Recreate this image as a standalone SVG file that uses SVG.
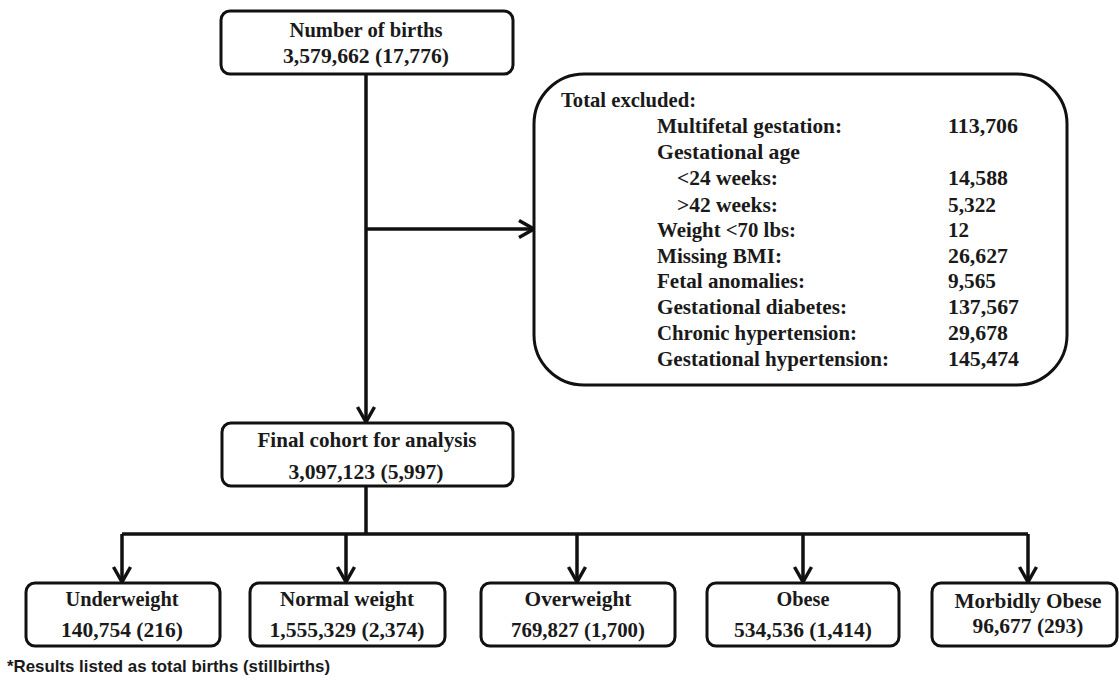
<svg xmlns="http://www.w3.org/2000/svg" width="1119" height="684" viewBox="0 0 1119 684">
<style>
.box{fill:#fff;stroke:#111;stroke-width:3}
.t{font-family:"Liberation Serif","Times New Roman",serif;font-weight:bold;font-size:22px;fill:#1a1a1a}
.c{text-anchor:middle}
.ln{fill:none;stroke:#111;stroke-width:3.5}
.note{font-family:"Liberation Sans",Arial,sans-serif;font-weight:bold;font-size:17px;fill:#1a1a1a}
</style>
<defs>
<marker id="arr" viewBox="-20 -12 24 24" refX="-2" refY="0" markerWidth="24" markerHeight="24" markerUnits="userSpaceOnUse" orient="auto" overflow="visible">
<path d="M-16,-8.5 L-1,0 L-16,8.5" fill="none" stroke="#111" stroke-width="3.5" stroke-linejoin="miter"/>
</marker>
</defs>
<rect width="1119" height="684" fill="#fff"/>
<g id="connectors">
<path class="ln" d="M366,74 V421" marker-end="url(#arr)"/>
<path class="ln" d="M366,229 H533" marker-end="url(#arr)"/>
<path class="ln" d="M366,486 V534"/>
<path class="ln" d="M122,534 H1028"/>
<path class="ln" d="M122,534 V581" marker-end="url(#arr)"/>
<path class="ln" d="M346,534 V581" marker-end="url(#arr)"/>
<path class="ln" d="M577,534 V581" marker-end="url(#arr)"/>
<path class="ln" d="M803,534 V581" marker-end="url(#arr)"/>
<path class="ln" d="M1028,534 V581" marker-end="url(#arr)"/>
</g>
<g id="births">
<rect class="box" x="221" y="11" width="292" height="63" rx="9"/>
<text class="t c" x="366" y="37" textLength="153" lengthAdjust="spacingAndGlyphs">Number  of births</text>
<text class="t c" x="366" y="63" textLength="166" lengthAdjust="spacingAndGlyphs">3,579,662 (17,776)</text>
</g>
<g id="excluded">
<rect class="box" x="534" y="74" width="533" height="311" rx="50"/>
<text class="t" x="561" y="107" textLength="135" lengthAdjust="spacingAndGlyphs">Total  excluded:</text>
<text class="t" x="657" y="133" textLength="185" lengthAdjust="spacingAndGlyphs">Multifetal  gestation:</text>
<text class="t" x="657" y="159" textLength="143" lengthAdjust="spacingAndGlyphs">Gestational  age</text>
<text class="t" x="677" y="185" textLength="101" lengthAdjust="spacingAndGlyphs">&lt;24 weeks:</text>
<text class="t" x="677" y="212" textLength="101" lengthAdjust="spacingAndGlyphs">&gt;42 weeks:</text>
<text class="t" x="657" y="237" textLength="139" lengthAdjust="spacingAndGlyphs">Weight  &lt;70 lbs:</text>
<text class="t" x="657" y="263" textLength="125" lengthAdjust="spacingAndGlyphs">Missing  BMI:</text>
<text class="t" x="657" y="288" textLength="148" lengthAdjust="spacingAndGlyphs">Fetal anomalies:</text>
<text class="t" x="657" y="314" textLength="190" lengthAdjust="spacingAndGlyphs">Gestational  diabetes:</text>
<text class="t" x="657" y="340" textLength="200" lengthAdjust="spacingAndGlyphs">Chronic  hypertension:</text>
<text class="t" x="657" y="366" textLength="232" lengthAdjust="spacingAndGlyphs">Gestational  hypertension:</text>
<text class="t" x="948" y="133" textLength="70" lengthAdjust="spacingAndGlyphs">113,706</text>
<text class="t" x="948" y="185" textLength="60" lengthAdjust="spacingAndGlyphs">14,588</text>
<text class="t" x="948" y="212" textLength="48" lengthAdjust="spacingAndGlyphs">5,322</text>
<text class="t" x="948" y="237" textLength="21" lengthAdjust="spacingAndGlyphs">12</text>
<text class="t" x="948" y="263" textLength="60" lengthAdjust="spacingAndGlyphs">26,627</text>
<text class="t" x="948" y="288" textLength="48" lengthAdjust="spacingAndGlyphs">9,565</text>
<text class="t" x="948" y="314" textLength="71" lengthAdjust="spacingAndGlyphs">137,567</text>
<text class="t" x="948" y="340" textLength="60" lengthAdjust="spacingAndGlyphs">29,678</text>
<text class="t" x="948" y="366" textLength="71" lengthAdjust="spacingAndGlyphs">145,474</text>
</g>
<g id="cohort">
<rect class="box" x="222" y="423" width="291" height="63" rx="9"/>
<text class="t c" x="367" y="447" textLength="219" lengthAdjust="spacingAndGlyphs">Final cohort for analysis</text>
<text class="t c" x="366" y="479" textLength="155" lengthAdjust="spacingAndGlyphs">3,097,123 (5,997)</text>
</g>
<g id="underweight">
<rect class="box" x="26" y="583" width="194" height="63" rx="9"/>
<text class="t c" x="122" y="606" textLength="113" lengthAdjust="spacingAndGlyphs">Underweight</text>
<text class="t c" x="122" y="637" textLength="122" lengthAdjust="spacingAndGlyphs">140,754 (216)</text>
</g>
<g id="normal">
<rect class="box" x="250" y="583" width="195" height="63" rx="9"/>
<text class="t c" x="347" y="606" textLength="134" lengthAdjust="spacingAndGlyphs">Normal  weight</text>
<text class="t c" x="347" y="637" textLength="155" lengthAdjust="spacingAndGlyphs">1,555,329 (2,374)</text>
</g>
<g id="overweight">
<rect class="box" x="481" y="583" width="194" height="63" rx="9"/>
<text class="t c" x="578" y="606" textLength="107" lengthAdjust="spacingAndGlyphs">Overweight</text>
<text class="t c" x="578" y="637" textLength="134" lengthAdjust="spacingAndGlyphs">769,827 (1,700)</text>
</g>
<g id="obese">
<rect class="box" x="707" y="583" width="192" height="63" rx="9"/>
<text class="t c" x="803" y="606" textLength="53" lengthAdjust="spacingAndGlyphs">Obese</text>
<text class="t c" x="803" y="637" textLength="138" lengthAdjust="spacingAndGlyphs">534,536 (1,414)</text>
</g>
<g id="morbid">
<rect class="box" x="932" y="583" width="185" height="63" rx="9"/>
<text class="t c" x="1028" y="608" textLength="147" lengthAdjust="spacingAndGlyphs">Morbidly  Obese</text>
<text class="t c" x="1028" y="633" textLength="111" lengthAdjust="spacingAndGlyphs">96,677 (293)</text>
</g>
<text class="note" x="7" y="672" textLength="323" lengthAdjust="spacingAndGlyphs">*Results listed as total births (stillbirths)</text>
</svg>
